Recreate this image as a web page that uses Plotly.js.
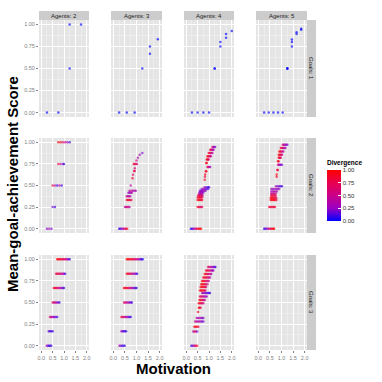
<!DOCTYPE html>
<html><head><meta charset="utf-8">
<script src="https://cdn.plot.ly/plotly-3.0.1.min.js"></script>
<style>html,body{margin:0;padding:0;background:#fff}#chart{width:382px;height:382px}</style>
</head><body><div id="chart"></div>
<script>
// Facet labels
const agentLabels = ["Agents: 2", "Agents: 3", "Agents: 4", "Agents: 5"];
const goalLabels = ["Goals: 1", "Goals: 2", "Goals: 3"];
const xTickVals = [0, 0.5, 1, 1.5, 2];
const yTickVals = [0, 0.25, 0.5, 0.75, 1];
const divTickVals = [0, 0.25, 0.5, 0.75, 1];

// Goals: 1
const a2g1_x = [0.25, 0.75, 1.25, 1.25, 1.75];
const a2g1_y = [0, 0, 0.5, 1, 1];
const a2g1_d = [0, 0, 0, 0, 0];
const a3g1_x = [0.25, 0.58, 0.92, 1.25, 1.58, 1.58, 1.92];
const a3g1_y = [0, 0, 0, 0.5, 0.667, 0.75, 0.833];
const a3g1_d = [0, 0, 0, 0, 0, 0, 0];
const a4g1_x = [0.25, 0.5, 0.75, 1.0, 1.25, 1.25, 1.5, 1.5, 1.75, 1.75, 2.0];
const a4g1_y = [0, 0, 0, 0, 0.5, 0.5, 0.75, 0.8, 0.85, 0.89, 0.925];
const a4g1_d = [0, 0, 0, 0, 0, 0, 0, 0, 0, 0, 0];
const a5g1_x = [0.25, 0.45, 0.65, 0.85, 1.05, 1.25, 1.25, 1.25, 1.45, 1.45, 1.45, 1.65, 1.65, 1.85, 1.85];
const a5g1_y = [0, 0, 0, 0, 0, 0.5, 0.5, 0.5, 0.75, 0.8, 0.83, 0.89, 0.91, 0.94, 0.95];
const a5g1_d = [0, 0, 0, 0, 0, 0, 0, 0, 0, 0, 0, 0, 0, 0, 0];

// Goals: 2
const a2g2_x = [0.75,0.85,0.95,1.05,1.15,1.25, 0.75,0.85,0.95,1.0, 0.5,0.6,0.7,0.8,0.9, 0.5,0.6, 0.25,0.35,0.45];
const a2g2_y = [1,1,1,1,1,1, 0.75,0.75,0.75,0.75, 0.5,0.5,0.5,0.5,0.5, 0.25,0.25, 0,0,0];
const a2g2_d = [1,0.9,0.7,0.5,0.3,0.1, 0.8,0.5,0.2,0.1, 0.8,0.4,0.1,0.4,0.1, 0.2,0.1, 0.2,0.3,0.2];

const a3g2_x = [0.25,0.3,0.35,0.4,0.45,0.5,0.55,0.6, 0.5,0.55,0.6,0.65,0.7, 0.58,0.63,0.68,0.73,0.78, 0.58,0.63,0.68,0.73, 0.65,0.7,0.75,0.8, 0.7,0.78,0.85,0.92,0.97, 0.75, 0.83, 0.85, 0.9,0.92, 0.93, 0.88,0.92,0.97,1.02, 1.0, 1.06, 1.14, 1.25];
const a3g2_y = [0,0,0,0,0,0,0,0, 0.25,0.25,0.25,0.25,0.25, 0.333,0.333,0.333,0.333,0.333, 0.375,0.375,0.375,0.375, 0.417,0.417,0.417,0.417, 0.44,0.44,0.44,0.44,0.44, 0.5, 0.583, 0.625, 0.667,0.667, 0.7, 0.75,0.75,0.75,0.75, 0.79, 0.82, 0.857, 0.875];
const a3g2_d = [0.1,0.1,0.2,0.3,0.5,0.6,0.8,0.9, 0.4,0.5,0.6,0.5,0.4, 0.9,0.8,0.9,0.7,0.8, 0.5,0.4,0.5,0.3, 0.3,0.2,0.3,0.4, 0.4,0.5,0.3,0.4,0.3, 0.4, 0.9, 0.7, 0.9,0.7, 0.6, 0.8,0.9,0.7,0.6, 0.5, 0.4, 0.3, 0.2];

const a4g2_x = [0.2,0.25,0.3,0.35,0.4,0.45,0.5,0.55,0.6,0.65, 0.5,0.55,0.6,0.65,0.7, 0.5,0.55,0.6,0.65,0.7, 0.5,0.55,0.6,0.65,0.7, 0.52,0.57,0.62,0.67,0.72, 0.55,0.6,0.65,0.7, 0.58,0.62,0.66,0.7,0.75, 0.6,0.65,0.7,0.75,0.8,0.85, 0.68,0.75,0.82,0.9,0.97, 0.8,0.88,0.95,1.0,
  0.81, 0.82, 0.83, 0.86,0.88, 0.93,0.97,1.01,1.05, 0.88,0.9, 0.9,0.93,0.96,0.99, 0.93,0.97,1.01,1.05,1.08, 0.99,1.03,1.07,1.11,1.15, 1.05,1.09,1.13,1.17,1.2, 1.15,1.19,1.23,1.27];
const a4g2_y = [0,0,0,0,0,0,0,0,0,0, 0.25,0.25,0.25,0.25,0.25, 0.333,0.333,0.333,0.333,0.333, 0.36,0.36,0.36,0.36,0.36, 0.38,0.38,0.38,0.38,0.38, 0.4,0.4,0.4,0.4, 0.42,0.42,0.42,0.42,0.42, 0.44,0.44,0.44,0.44,0.44,0.44, 0.46,0.46,0.46,0.46,0.46, 0.48,0.48,0.48,0.48,
  0.568, 0.6, 0.626, 0.664,0.664, 0.715,0.715,0.715,0.715, 0.76,0.76, 0.8,0.8,0.8,0.8, 0.84,0.84,0.84,0.84,0.84, 0.877,0.877,0.877,0.877,0.877, 0.915,0.915,0.915,0.915,0.915, 0.947,0.947,0.947,0.947];
const a4g2_d = [0.05,0.1,0.2,0.3,0.5,0.6,0.8,0.9,0.95,1, 0.8,0.9,0.7,0.6,0.8, 0.9,1,0.9,0.8,0.9, 0.8,0.9,1,0.9,0.7, 0.9,0.8,0.7,0.8,0.6, 0.5,0.6,0.4,0.5, 0.3,0.2,0.4,0.3,0.2, 0.2,0.3,0.2,0.3,0.4,0.2, 0.2,0.3,0.2,0.1,0.2, 0.3,0.2,0.1,0.1,
  0.9, 0.8, 0.9, 0.8,1, 0.8,0.6,0.4,0.3, 1,0.9, 0.9,1,0.8,0.6, 1,0.9,0.8,0.6,0.5, 0.9,0.9,0.7,0.5,0.4, 0.8,0.7,0.6,0.4,0.3, 0.5,0.4,0.3,0.2];

const a5g2_x = [0.25,0.3,0.35,0.4,0.45,0.5,0.55,0.6,0.65,0.68, 0.47,0.52,0.57,0.62,0.67,0.72, 0.53,0.58,0.63,0.68,0.73,0.78, 0.53,0.58,0.63,0.68,0.73,0.78, 0.55,0.6,0.65,0.7,0.75, 0.55,0.6,0.65,0.7,0.75, 0.56,0.62,0.68,0.74,0.8, 0.56,0.63,0.7,0.77,0.84,0.9, 0.76,0.83,0.9,0.96,1.02,
  0.79, 0.79, 0.82,0.84, 0.85,0.89,0.93,0.97,1.02, 0.85,0.87, 0.88,0.91,0.94,0.97, 0.88,0.92,0.96,1.0,1.02, 0.91,0.95,0.99,1.03,1.08, 0.97,1.01,1.05,1.09,1.13,1.17, 1.05,1.09,1.13,1.17,1.21,1.25];
const a5g2_y = [0,0,0,0,0,0,0,0,0,0, 0.25,0.25,0.25,0.25,0.25,0.25, 0.333,0.333,0.333,0.333,0.333,0.333, 0.356,0.356,0.356,0.356,0.356,0.356, 0.38,0.38,0.38,0.38,0.38, 0.405,0.405,0.405,0.405,0.405, 0.43,0.43,0.43,0.43,0.43, 0.46,0.46,0.46,0.46,0.46,0.46, 0.49,0.49,0.49,0.49,0.49,
  0.6, 0.626, 0.68,0.68, 0.74,0.74,0.74,0.74,0.74, 0.78,0.78, 0.82,0.82,0.82,0.82, 0.857,0.857,0.857,0.857,0.857, 0.895,0.895,0.895,0.895,0.895, 0.935,0.935,0.935,0.935,0.935,0.935, 0.973,0.973,0.973,0.973,0.973,0.973];
const a5g2_d = [0.05,0.1,0.2,0.3,0.5,0.6,0.8,0.9,0.95,1, 0.8,0.9,0.8,0.7,0.9,0.8, 0.9,1,0.9,1,0.8,0.9, 1,0.9,1,0.8,0.9,0.7, 0.9,0.8,0.9,0.7,0.8, 0.6,0.5,0.7,0.5,0.6, 0.3,0.4,0.3,0.4,0.3, 0.3,0.2,0.4,0.3,0.2,0.3, 0.3,0.2,0.2,0.1,0.1,
  0.9, 1, 0.9,0.8, 0.6,0.4,0.3,0.2,0.2, 1,0.9, 1,0.9,0.8,0.7, 0.9,1,0.8,0.6,0.5, 1,0.9,0.7,0.6,0.4, 0.9,0.8,0.6,0.5,0.4,0.3, 0.6,0.5,0.4,0.3,0.3,0.2];

// Goals: 3
const a2g3_x = [0.7,0.75,0.8,0.85,0.9,0.95,1.0,1.05,1.1,1.15,1.2,1.25, 0.65,0.7,0.75,0.8,0.85,0.9,0.95,1.0,1.05, 0.55,0.6,0.65,0.7,0.75,0.8,0.85,0.9,0.95,1.0, 0.5,0.55,0.6,0.65,0.7,0.75,0.8, 0.38,0.43,0.48,0.53,0.58,0.63,0.7, 0.33,0.38,0.44,0.5, 0.24,0.29,0.34,0.39,0.44];
const a2g3_y = [1,1,1,1,1,1,1,1,1,1,1,1, 0.833,0.833,0.833,0.833,0.833,0.833,0.833,0.833,0.833, 0.667,0.667,0.667,0.667,0.667,0.667,0.667,0.667,0.667,0.667, 0.5,0.5,0.5,0.5,0.5,0.5,0.5, 0.333,0.333,0.333,0.333,0.333,0.333,0.333, 0.167,0.167,0.167,0.167, 0,0,0,0,0];
const a2g3_d = [1,1,0.9,0.9,0.8,0.8,0.7,0.6,0.5,0.4,0.2,0.1, 0.8,0.8,0.7,0.7,0.6,0.5,0.4,0.3,0.1, 0.9,0.9,0.8,0.7,0.6,0.5,0.4,0.3,0.2,0.1, 0.7,0.6,0.5,0.4,0.3,0.2,0.1, 0.6,0.5,0.4,0.3,0.2,0.2,0.1, 0.2,0.1,0.1,0.1, 0.3,0.2,0.1,0.1,0.1];

const a3g3_x = [0.58,0.63,0.68,0.73,0.78,0.83,0.88,0.93,0.98,1.03,1.08,1.13,1.18,1.22,1.27, 0.58,0.63,0.68,0.73,0.78,0.83,0.88,0.93,0.98,1.03, 0.46,0.51,0.56,0.61,0.66,0.71,0.76,0.81,0.86,0.91,0.96,1.0, 0.46,0.51,0.56,0.61,0.66,0.71,0.76,0.8, 0.35,0.4,0.45,0.5,0.55,0.6,0.65,0.7,0.75, 0.35,0.4,0.45,0.5,0.55, 0.26,0.32,0.38,0.44,0.49];
const a3g3_y = [1,1,1,1,1,1,1,1,1,1,1,1,1,1,1, 0.833,0.833,0.833,0.833,0.833,0.833,0.833,0.833,0.833,0.833, 0.667,0.667,0.667,0.667,0.667,0.667,0.667,0.667,0.667,0.667,0.667,0.667, 0.5,0.5,0.5,0.5,0.5,0.5,0.5,0.5, 0.333,0.333,0.333,0.333,0.333,0.333,0.333,0.333,0.333, 0.167,0.167,0.167,0.167,0.167, 0,0,0,0,0];
const a3g3_d = [1,1,0.9,0.9,0.9,0.8,0.8,0.7,0.6,0.5,0.4,0.3,0.2,0.1,0.05, 0.9,0.9,0.8,0.7,0.6,0.5,0.4,0.3,0.2,0.1, 1,0.9,0.9,0.8,0.7,0.6,0.5,0.4,0.3,0.2,0.1,0.1, 0.7,0.6,0.5,0.4,0.3,0.2,0.2,0.1, 0.8,0.7,0.6,0.5,0.4,0.3,0.2,0.1,0.1, 0.3,0.2,0.1,0.1,0.1, 0.3,0.2,0.1,0.1,0.1];

const a4g3_x = [0.22,0.27,0.32,0.37,0.42,0.48, 0.31,0.36,0.42,0.48, 0.36,0.41,0.47,0.53, 0.39,0.45,0.51,0.57,0.63,0.69,0.75, 0.46,0.52,0.58,0.64,0.7,0.75, 0.52, 0.55,0.59,0.63, 0.55,0.6,0.65,0.7,0.75, 0.58,0.63,0.68,0.73,0.78,0.81, 0.6,0.65,0.7,0.75,0.8,0.85,0.9, 0.7,0.75,0.8,0.85,0.9,0.95,1.0,1.04, 0.6,0.65,0.7,0.75,0.8,0.84, 0.63,0.68,0.73,0.78,0.83,0.87, 0.66,0.71,0.76,0.81,0.86,0.93, 0.69,0.74,0.79,0.84,0.89,0.94,0.99, 0.75,0.8,0.85,0.9,0.95,1.0,1.04, 0.81,0.86,0.91,0.96,1.01,1.06,1.1, 0.87,0.92,0.97,1.02,1.07,1.12,1.16,1.19, 0.96,1.01,1.06,1.11,1.16,1.21,1.25,1.28];
const a4g3_y = [0,0,0,0,0,0, 0.165,0.165,0.165,0.165, 0.22,0.22,0.22,0.22, 0.28,0.28,0.28,0.28,0.28,0.28,0.28, 0.32,0.32,0.32,0.32,0.32,0.32, 0.39, 0.44,0.44,0.44, 0.49,0.49,0.49,0.49,0.49, 0.53,0.53,0.53,0.53,0.53,0.53, 0.57,0.57,0.57,0.57,0.57,0.57,0.57, 0.61,0.61,0.61,0.61,0.61,0.61,0.61,0.61, 0.64,0.64,0.64,0.64,0.64,0.64, 0.68,0.68,0.68,0.68,0.68,0.68, 0.71,0.71,0.71,0.71,0.71,0.71, 0.75,0.75,0.75,0.75,0.75,0.75,0.75, 0.79,0.79,0.79,0.79,0.79,0.79,0.79, 0.83,0.83,0.83,0.83,0.83,0.83,0.83, 0.87,0.87,0.87,0.87,0.87,0.87,0.87,0.87, 0.91,0.91,0.91,0.91,0.91,0.91,0.91,0.91];
const a4g3_d = [0.1,0.2,0.3,0.5,0.7,0.9, 0.3,0.8,0.5,0.2, 0.9,1,0.9,0.8, 0.5,0.4,0.3,0.4,0.3,0.2,0.2, 0.4,0.3,0.4,0.3,0.2,0.2, 0.9, 1,0.9,0.8, 1,0.9,0.8,0.7,0.6, 0.9,1,0.8,0.7,0.6,0.5, 0.8,0.7,0.6,0.5,0.4,0.3,0.3, 0.3,0.2,0.3,0.2,0.1,0.2,0.1,0.1, 1,0.9,1,0.9,0.8,0.7, 0.9,1,0.9,0.8,0.8,0.6, 1,0.9,1,0.8,0.7,0.6, 1,0.9,0.9,0.8,0.7,0.6,0.5, 0.9,1,0.8,0.8,0.7,0.6,0.4, 1,0.9,0.8,0.7,0.6,0.5,0.4, 0.9,0.8,0.8,0.7,0.5,0.4,0.3,0.3, 0.7,0.6,0.5,0.4,0.3,0.2,0.2,0.1];

const a5g3_x = [];
const a5g3_y = [];
const a5g3_d = [];

const panels = [
  [a2g1_x, a2g1_y, a2g1_d], [a3g1_x, a3g1_y, a3g1_d], [a4g1_x, a4g1_y, a4g1_d], [a5g1_x, a5g1_y, a5g1_d],
  [a2g2_x, a2g2_y, a2g2_d], [a3g2_x, a3g2_y, a3g2_d], [a4g2_x, a4g2_y, a4g2_d], [a5g2_x, a5g2_y, a5g2_d],
  [a2g3_x, a2g3_y, a2g3_d], [a3g3_x, a3g3_y, a3g3_d], [a4g3_x, a4g3_y, a4g3_d], [a5g3_x, a5g3_y, a5g3_d]
];

const W = 382, H = 382;
const colPx = [[39, 89], [111, 162], [184, 234], [256, 307]];
const rowPx = [[20, 117], [138, 233], [255, 350]];
const px2x = p => p / W;
const px2y = p => 1 - p / H;
const FONT = 'Liberation Sans, Arial, sans-serif';

const traces = [];
const layout = {
  width: W, height: H, autosize: false,
  margin: {l: 0, r: 0, t: 0, b: 0},
  paper_bgcolor: '#ffffff', plot_bgcolor: '#E5E5E5',
  showlegend: false,
  font: {family: FONT},
  coloraxis: {
    cmin: 0, cmax: 1,
    colorscale: [[0, '#0000FF'], [0.25, '#9A00C3'], [0.5, '#CA0088'], [0.75, '#E8004F'], [1, '#FF0000']],
    colorbar: {
      x: px2x(327), xanchor: 'left', xpad: 0,
      y: px2y(157), yanchor: 'top', ypad: 0,
      thickness: 14, thicknessmode: 'pixels',
      len: 64, lenmode: 'pixels',
      outlinewidth: 0,
      tickvals: divTickVals, tickformat: '.2f',
      ticks: 'inside', ticklen: 3, tickcolor: '#ffffff', tickwidth: 1,
      tickfont: {size: 6, color: '#333333', family: FONT},
      title: {text: '<b>Divergence</b>', side: 'top', font: {size: 6.5, color: '#000', family: FONT}}
    }
  },
  shapes: [], annotations: []
};

for (let r = 0; r < 3; r++) {
  for (let c = 0; c < 4; c++) {
    const k = r * 4 + c + 1;
    const xs = k === 1 ? '' : String(k);
    const [px, py, pd] = panels[k - 1];
    traces.push({
      type: 'scatter', mode: 'markers',
      x: px, y: py,
      xaxis: 'x' + xs, yaxis: 'y' + xs,
      marker: {size: 2.5, color: pd, coloraxis: 'coloraxis', opacity: 0.65, line: {width: 0}},
      hoverinfo: 'skip'
    });
    const bottom = r === 2, left = c === 0;
    layout['xaxis' + xs] = {
      domain: [px2x(colPx[c][0]), px2x(colPx[c][1])],
      anchor: 'y' + xs, range: [-0.1, 2.1],
      tickvals: xTickVals, tickformat: '.1f',
      showticklabels: bottom, ticks: bottom ? 'outside' : '', ticklen: 2, tickcolor: '#7F7F7F',
      tickfont: {size: 5.5, color: '#7F7F7F', family: FONT},
      showgrid: true, gridcolor: '#FFFFFF', gridwidth: 1,
      minor: {dtick: 0.25, tick0: 0, showgrid: true, gridcolor: '#F2F2F2', gridwidth: 0.6, ticks: ''},
      zeroline: false, showline: false, fixedrange: true
    };
    layout['yaxis' + xs] = {
      domain: [px2y(rowPx[r][1]), px2y(rowPx[r][0])],
      anchor: 'x' + xs, range: [-0.05, 1.05],
      tickvals: yTickVals, tickformat: '.2f',
      showticklabels: left, ticks: left ? 'outside' : '', ticklen: 2, tickcolor: '#7F7F7F',
      tickfont: {size: 5.5, color: '#7F7F7F', family: FONT},
      showgrid: true, gridcolor: '#FFFFFF', gridwidth: 1,
      minor: {dtick: 0.125, tick0: 0, showgrid: true, gridcolor: '#F2F2F2', gridwidth: 0.6, ticks: ''},
      zeroline: false, showline: false, fixedrange: true
    };
  }
}

// top strips
for (let c = 0; c < 4; c++) {
  layout.shapes.push({type: 'rect', xref: 'paper', yref: 'paper',
    x0: px2x(colPx[c][0]), x1: px2x(colPx[c][1]), y0: px2y(20), y1: px2y(11),
    fillcolor: '#CCCCCC', line: {width: 0}, layer: 'below'});
  layout.annotations.push({xref: 'paper', yref: 'paper',
    x: px2x((colPx[c][0] + colPx[c][1]) / 2), y: px2y(15.5),
    text: agentLabels[c], showarrow: false, xanchor: 'center', yanchor: 'middle',
    font: {size: 6, color: '#1A1A1A', family: FONT}});
}
// right strips
for (let r = 0; r < 3; r++) {
  layout.shapes.push({type: 'rect', xref: 'paper', yref: 'paper',
    x0: px2x(307), x1: px2x(316), y0: px2y(rowPx[r][1]), y1: px2y(rowPx[r][0]),
    fillcolor: '#CCCCCC', line: {width: 0}, layer: 'below'});
  layout.annotations.push({xref: 'paper', yref: 'paper',
    x: px2x(311.5), y: px2y((rowPx[r][0] + rowPx[r][1]) / 2),
    text: goalLabels[r], showarrow: false, textangle: 90, xanchor: 'center', yanchor: 'middle',
    font: {size: 6, color: '#1A1A1A', family: FONT}});
}
// axis titles
layout.annotations.push({xref: 'paper', yref: 'paper', x: px2x(173), y: px2y(368),
  text: '<b>Motivation</b>', showarrow: false, xanchor: 'center', yanchor: 'middle',
  font: {size: 15, color: '#000', family: FONT}});
layout.annotations.push({xref: 'paper', yref: 'paper', x: px2x(12), y: px2y(184),
  text: '<b>Mean-goal-achievement Score</b>', showarrow: false, textangle: -90, xanchor: 'center', yanchor: 'middle',
  font: {size: 15, color: '#000', family: FONT}});

Plotly.newPlot('chart', traces, layout, {displayModeBar: false, staticPlot: true});
</script></body></html>
